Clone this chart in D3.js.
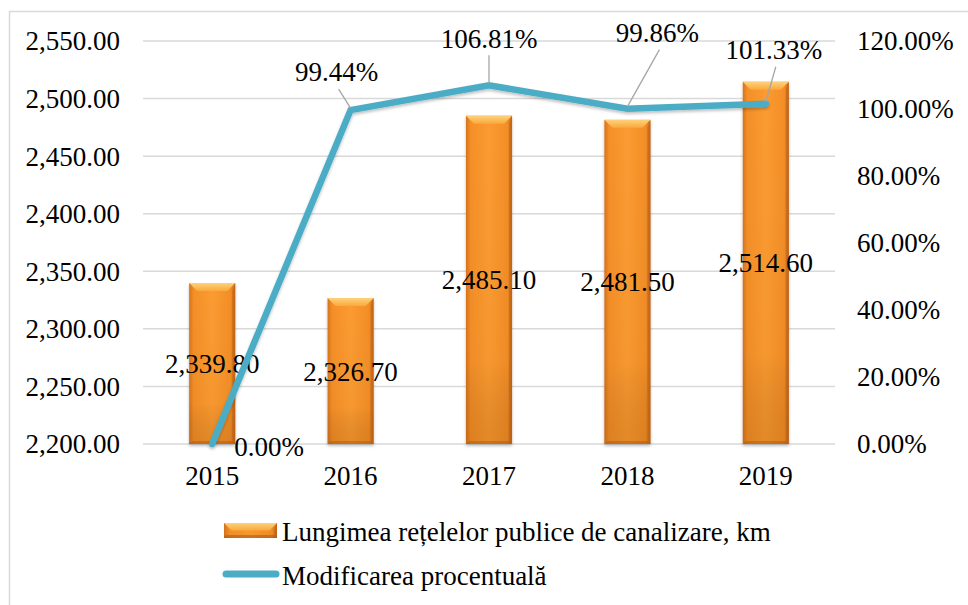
<!DOCTYPE html>
<html>
<head>
<meta charset="utf-8">
<script src="https://cdn.jsdelivr.net/npm/d3@7"></script>
<style>
  body { margin: 0; background: #fff; }
</style>
</head>
<body>
<svg id="grafic" width="968" height="605" font-family="'Liberation Serif', 'Times New Roman', serif"></svg>
<script>
// date
const ani = ["2015", "2016", "2017", "2018", "2019"];
const lungime = [2339.80, 2326.70, 2485.10, 2481.50, 2514.60];
const modificare = [0.00, 99.44, 106.81, 99.86, 101.33];
const ticksStanga = [2200, 2250, 2300, 2350, 2400, 2450, 2500, 2550];
const ticksDreapta = [0, 20, 40, 60, 80, 100, 120];
const legenda = ["Lungimea rețelelor publice de canalizare, km", "Modificarea procentuală"];

// pozitia etichetelor procentuale fata de punct (dx, dy)
const offsetEtichete = [[57, 3], [-14, -38], [0, -47], [30, -76], [8, -54]];

const svg = d3.select("#grafic");
const fontSize = 27;

const x = d3.scaleBand().domain(ani).range([143, 835]).paddingInner(0.667).paddingOuter(0.3335);
const yL = d3.scaleLinear().domain([2200, 2550]).range([444, 41]);
const yR = d3.scaleLinear().domain([0, 120]).range([444, 41]);
const cx = d => x(d) + x.bandwidth() / 2;

// gradienti pentru bare
const defs = svg.append("defs");
const gCorp = defs.append("linearGradient").attr("id", "corp").attr("x1", 0).attr("x2", 1).attr("y1", 0).attr("y2", 0);
gCorp.append("stop").attr("offset", "0%").attr("stop-color", "#D6731C");
gCorp.append("stop").attr("offset", "10%").attr("stop-color", "#F48F28");
gCorp.append("stop").attr("offset", "50%").attr("stop-color", "#FB9B31");
gCorp.append("stop").attr("offset", "90%").attr("stop-color", "#F38E27");
gCorp.append("stop").attr("offset", "100%").attr("stop-color", "#C8681A");
const gVert = defs.append("linearGradient").attr("id", "vert").attr("x1", 0).attr("x2", 0).attr("y1", 0).attr("y2", 1);
gVert.append("stop").attr("offset", "0%").attr("stop-color", "#000").attr("stop-opacity", 0);
gVert.append("stop").attr("offset", "75%").attr("stop-color", "#000").attr("stop-opacity", 0.02);
gVert.append("stop").attr("offset", "100%").attr("stop-color", "#7a3a00").attr("stop-opacity", 0.18);
const gTop = defs.append("linearGradient").attr("id", "sus").attr("x1", 0).attr("x2", 0).attr("y1", 0).attr("y2", 1);
gTop.append("stop").attr("offset", "0%").attr("stop-color", "#FDD27A");
gTop.append("stop").attr("offset", "100%").attr("stop-color", "#FBA83C");
const umbra = defs.append("filter").attr("id", "umbra").attr("x", "-10%").attr("y", "-10%").attr("width", "130%").attr("height", "140%");
umbra.append("feDropShadow").attr("dx", 0).attr("dy", 2).attr("stdDeviation", 1.5).attr("flood-color", "#000").attr("flood-opacity", 0.25);

// chenar
svg.append("rect").attr("x", 9.5).attr("y", 11.5).attr("width", 980).attr("height", 620)
  .attr("fill", "none").attr("stroke", "#D9D9D9").attr("stroke-width", 1.5);

// grila
svg.append("g").selectAll("line").data(ticksStanga).join("line")
  .attr("x1", 143).attr("x2", 835)
  .attr("y1", d => yL(d)).attr("y2", d => yL(d))
  .attr("stroke", "#D9D9D9").attr("stroke-width", 1.5);

// axa stanga
svg.append("g").selectAll("text").data(ticksStanga).join("text")
  .attr("x", 120).attr("y", d => yL(d)).attr("dy", "0.35em")
  .attr("text-anchor", "end").style("font-size", fontSize + "px")
  .text(d => d3.format(",.2f")(d));

// axa dreapta
svg.append("g").selectAll("text").data(ticksDreapta).join("text")
  .attr("x", 857).attr("y", d => yR(d)).attr("dy", "0.35em")
  .attr("text-anchor", "start").style("font-size", fontSize + "px")
  .text(d => d.toFixed(2) + "%");

// axa x
svg.append("g").selectAll("text").data(ani).join("text")
  .attr("x", d => cx(d)).attr("y", 476).attr("dy", "0.35em")
  .attr("text-anchor", "middle").style("font-size", fontSize + "px")
  .text(d => d);

function bara(g, x0, y0, w, h) {
  const b = Math.min(8, h / 2);
  g.append("rect").attr("x", x0).attr("y", y0).attr("width", w).attr("height", h).attr("fill", "url(#corp)");
  g.append("rect").attr("x", x0).attr("y", y0).attr("width", w).attr("height", h).attr("fill", "url(#vert)");
  g.append("path").attr("d", `M${x0},${y0}L${x0 + w},${y0}L${x0 + w - b},${y0 + b}L${x0 + b},${y0 + b}Z`).attr("fill", "url(#sus)");
  g.append("path").attr("d", `M${x0 + w},${y0}L${x0 + w},${y0 + h}L${x0 + w - 3},${y0 + h - 3}L${x0 + w - 3},${y0 + b}Z`).attr("fill", "#B85F14").attr("opacity", 0.45);
  g.append("path").attr("d", `M${x0},${y0 + h}L${x0 + w},${y0 + h}L${x0 + w - 3},${y0 + h - 3}L${x0 + 3},${y0 + h - 3}Z`).attr("fill", "#A95510").attr("opacity", 0.45);
}

// bare
ani.forEach((a, i) => {
  const g = svg.append("g").attr("filter", "url(#umbra)");
  bara(g, x(a), yL(lungime[i]), x.bandwidth(), yL(2200) - yL(lungime[i]));
});

// etichete bare
svg.append("g").selectAll("text").data(lungime).join("text")
  .attr("x", (d, i) => cx(ani[i]))
  .attr("y", d => (yL(d) + yL(2200)) / 2).attr("dy", "0.35em")
  .attr("text-anchor", "middle").style("font-size", fontSize + "px")
  .text(d => d3.format(",.2f")(d));

// linia procentuala
const linie = d3.line().x((d, i) => cx(ani[i])).y(d => yR(d));
svg.append("path").datum(modificare)
  .attr("d", linie).attr("fill", "none")
  .attr("stroke", "#4BACC6").attr("stroke-width", 6.5)
  .attr("stroke-linejoin", "miter").attr("stroke-linecap", "round")
  .attr("filter", "url(#umbra)");

// linii de legatura si etichete procentuale
modificare.forEach((v, i) => {
  const px = cx(ani[i]), py = yR(v);
  const [dx, dy] = offsetEtichete[i];
  const lx = px + dx, ly = py + dy;
  if (dy < -20) {
    svg.append("line")
      .attr("x1", lx + (dx !== 0 ? 2 : 0)).attr("y1", ly + 17)
      .attr("x2", px).attr("y2", py - 2)
      .attr("stroke", "#A6A6A6").attr("stroke-width", 1.3);
  }
  svg.append("text")
    .attr("x", lx).attr("y", ly).attr("dy", "0.35em")
    .attr("text-anchor", "middle").style("font-size", fontSize + "px")
    .text(v.toFixed(2) + "%");
});

// legenda
const leg = svg.append("g");
bara(leg, 224, 523, 53, 15);
leg.append("line").attr("x1", 226).attr("x2", 276).attr("y1", 574).attr("y2", 574)
  .attr("stroke", "#4BACC6").attr("stroke-width", 7).attr("stroke-linecap", "round");
leg.selectAll("text").data(legenda).join("text")
  .attr("x", 282).attr("y", (d, i) => 532 + i * 44).attr("dy", "0.35em")
  .style("font-size", fontSize + "px")
  .text(d => d);
</script>
</body>
</html>
